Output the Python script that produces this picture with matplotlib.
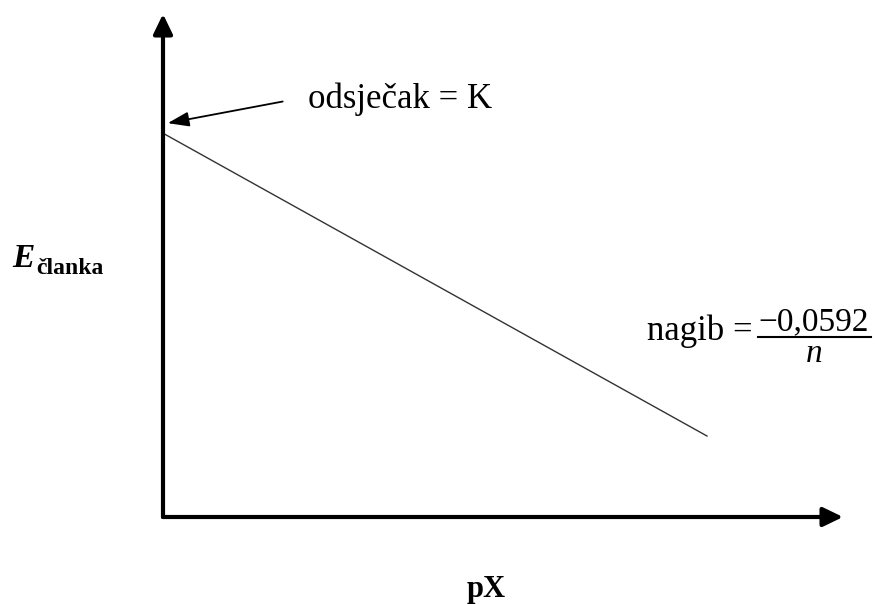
import matplotlib
matplotlib.use("Agg")
import matplotlib.pyplot as plt
from matplotlib.lines import Line2D

plt.rcParams['font.family'] = ['Liberation Serif', 'DejaVu Serif']

# data (arbitrary units)
px = [0.0, 8.0]
e_clanka = [7.63, 1.61]
intercept_label = "odsječak = K"
slope_label = "nagib = "
slope_num = "−0,0592"
slope_den = "n"

W, H = 875, 604
fig = plt.figure(figsize=(W / 100, H / 100), dpi=100)
# origin of the axes at the corner of the two arrows
ax = fig.add_axes([163 / W, (H - 517) / H, 680 / W, 503 / H])
ax.set_xlim(0, 10)
ax.set_ylim(0, 10)
ax.axis('off')


def fx(x):
    return x / W


def fy(y):
    return 1 - y / H


# axes drawn as arrows
arrow_kw = dict(arrowstyle='-|>,head_length=1.2,head_width=0.58', lw=3, color='black',
                shrinkA=0, shrinkB=0)
ax.annotate('', xy=(0, 1), xytext=(0, 0), xycoords='axes fraction', arrowprops=arrow_kw,
            annotation_clip=False)
ax.annotate('', xy=(1, 0), xytext=(0, 0), xycoords='axes fraction', arrowprops=arrow_kw,
            annotation_clip=False)

ax.plot(px, e_clanka, color='#333333', lw=1)

# intercept label with arrow
ax.annotate('', xy=(px[0] + 0.07, e_clanka[0] + 0.2), xytext=(1.76, 8.26),
            arrowprops=dict(arrowstyle='-|>,head_length=1.3,head_width=0.45', lw=1.3,
                            color='black', shrinkA=0, shrinkB=0))
fig.text(fx(308), fy(108), intercept_label, fontsize=25, ha='left', va='baseline')

# slope label as a fraction
fig.text(fx(647), fy(340), slope_label, fontsize=25, ha='left', va='baseline')
fig.text(fx(814), fy(330), slope_num, fontsize=24, ha='center', va='baseline')
fig.text(fx(814), fy(362), slope_den, fontsize=24, style='italic', ha='center', va='baseline')
fig.add_artist(Line2D([fx(758), fx(871)], [fy(337), fy(337)], transform=fig.transFigure,
                      color='black', lw=1.5))

# y label
fig.text(fx(12), fy(267), "E", fontsize=24, fontweight='bold', style='italic',
         ha='left', va='baseline')
fig.text(fx(36), fy(274), "članka", fontsize=17, fontweight='bold', ha='left', va='baseline')

# x label
fig.text(fx(486), fy(597), "pX", fontsize=22, fontweight='bold', ha='center', va='baseline')

fig.savefig("out.png", dpi=100)
